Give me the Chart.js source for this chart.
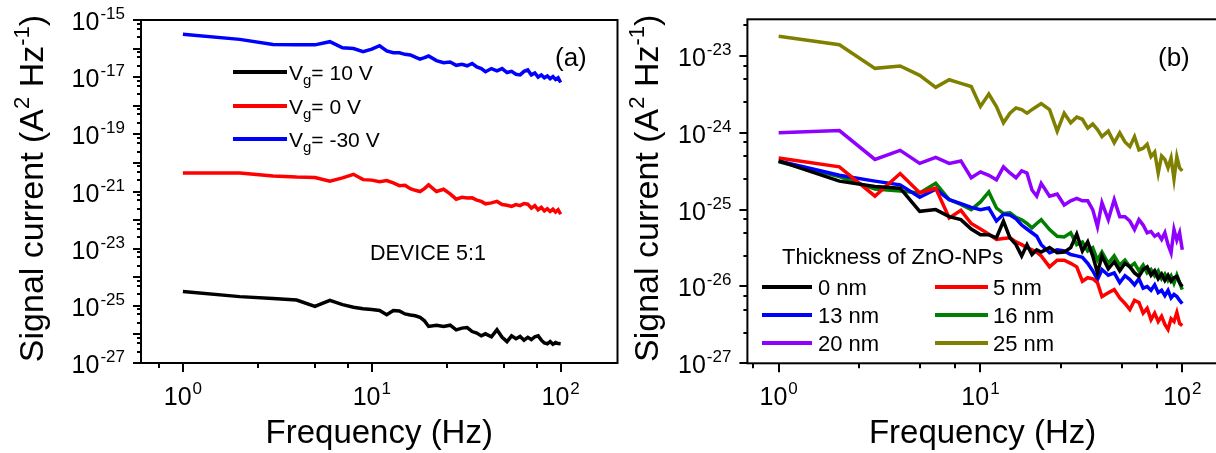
<!DOCTYPE html>
<html>
<head>
<meta charset="utf-8">
<script src="https://cdn.jsdelivr.net/npm/chart.js@4"></script>
<style>
    html, body { margin: 0; padding: 0; background: #fff; overflow: hidden; }
    #wrap { position: relative; width: 1216px; height: 453px; overflow: hidden; }
    #left { position: absolute; left: 0; top: 0; }
    #right { position: absolute; left: 600px; top: 0; }
</style>
</head>
<body>
<div id="wrap">
    <canvas id="left" width="640" height="453"></canvas>
    <canvas id="right" width="620" height="453"></canvas>
</div>
<script>
// frequency points (Hz), shared by every curve
const freq = [1,2,3,4,5,6,7,8,9,10,11,12,13,14,15,16,17,18,19,20,
    22,24,26,28,30,32,34,36,38,40,
    43,46,49,52,55,58,61,64,67,70,73,76,79,82,85,88,91,94,97,100];

// (a) DEVICE 5:1, gate voltages
const gateLabels = ['10 V', '0 V', '-30 V'];
const psdVg10 = [3.2e-25,2.1e-25,1.8e-25,1.6e-25,9.5e-26,1.55e-25,1.1e-25,8.9e-26,7.9e-26,7.4e-26,
    6.9e-26,4.9e-26,6.9e-26,6.6e-26,5.2e-26,4.8e-26,4.5e-26,4.0e-26,3.0e-26,1.9e-26,
    2.1e-26,1.9e-26,2.1e-26,1.45e-26,1.66e-26,1.74e-26,1.26e-26,1.12e-26,8.9e-27,1.05e-26,
    8.3e-27,1.45e-26,7.9e-27,5.6e-27,8.9e-27,7.1e-27,8.5e-27,6.3e-27,7.9e-27,6.6e-27,
    8.3e-27,8.9e-27,6.3e-27,5.0e-27,4.7e-27,5.6e-27,4.5e-27,5.2e-27,4.8e-27,4.7e-27];
const psdVg0 = [4.4e-21,4.4e-21,3.5e-21,3.2e-21,3.1e-21,2.3e-21,3.0e-21,4.0e-21,2.6e-21,2.5e-21,
    2.2e-21,2.4e-21,2.0e-21,1.6e-21,1.66e-21,1.26e-21,1.1e-21,1.0e-21,1.26e-21,1.7e-21,
    1.0e-21,1.2e-21,8.3e-22,5.4e-22,6.3e-22,5.9e-22,6.0e-22,5.0e-22,4.5e-22,3.7e-22,
    4.0e-22,4.5e-22,3.5e-22,3.3e-22,3.0e-22,3.5e-22,3.2e-22,3.8e-22,3.6e-22,2.6e-22,
    3.2e-22,2.3e-22,2.8e-22,2.1e-22,2.5e-22,2.0e-22,2.4e-22,1.9e-22,2.3e-22,1.6e-22];
const psdVgNeg30 = [3.2e-16,2.1e-16,1.4e-16,1.35e-16,1.35e-16,1.74e-16,1.07e-16,1.0e-16,7.8e-17,9.5e-17,
    1.26e-16,8.3e-17,7.2e-17,7.1e-17,6.3e-17,6.0e-17,5.0e-17,4.3e-17,4.8e-17,5.5e-17,
    3.8e-17,3.2e-17,3.4e-17,2.6e-17,2.8e-17,2.5e-17,3.0e-17,2.3e-17,2.0e-17,1.55e-17,
    2.0e-17,1.66e-17,2.0e-17,1.45e-17,1.6e-17,1.26e-17,1.2e-17,1.6e-17,1.8e-17,1.2e-17,
    1.4e-17,1.0e-17,1.2e-17,9.5e-18,1.1e-17,8.9e-18,1.05e-17,8.3e-18,9.5e-18,6.5e-18];

// (b) thickness of ZnO-NPs
const thicknessLabels = ['0 nm', '5 nm', '13 nm', '16 nm', '20 nm', '25 nm'];
const psd0nm = [4.3e-25,2.35e-25,2.0e-25,1.9e-25,9.5e-26,1.0e-25,8.1e-26,7.4e-26,5.6e-26,4.7e-26,
    4.7e-26,4.3e-26,7.1e-26,4.3e-26,3.5e-26,2.5e-26,3.5e-26,2.6e-26,3.0e-26,2.8e-26,
    3.2e-26,2.75e-26,2.8e-26,3.2e-26,4.8e-26,2.9e-26,3.8e-26,2.5e-26,1.5e-26,2.5e-26,
    1.7e-26,2.1e-26,1.6e-26,2.0e-26,1.8e-26,1.5e-26,1.35e-26,1.66e-26,1.8e-26,1.4e-26,
    1.6e-26,1.26e-26,1.45e-26,1.2e-26,1.4e-26,1.17e-26,1.3e-26,1.35e-26,1.12e-26,1.0e-26];
const psd5nm = [4.7e-25,3.6e-25,1.5e-25,2.95e-25,1.66e-25,1.9e-25,7.8e-26,9.8e-26,6.6e-26,5.6e-26,
    4.8e-26,4.1e-26,4.2e-26,4.3e-26,3.8e-26,3.5e-26,3.2e-26,3.0e-26,2.8e-26,2.5e-26,
    1.8e-26,2.2e-26,2.2e-26,2.0e-26,1.8e-26,1.17e-26,1.3e-26,1.26e-26,1.12e-26,7.4e-27,
    8.3e-27,9.1e-27,7.1e-27,6.0e-27,5.0e-27,6.6e-27,6.2e-27,4.5e-27,5.2e-27,3.7e-27,
    4.5e-27,3.5e-27,4.1e-27,3.2e-27,2.75e-27,3.8e-27,3.5e-27,4.6e-27,3.3e-27,3.1e-27];
const psd13nm = [4.3e-25,2.8e-25,2.35e-25,2.1e-25,1.45e-25,1.85e-25,1.35e-25,1.2e-25,1.07e-25,1.0e-25,
    1.05e-25,7.1e-26,8.7e-26,8.5e-26,7.6e-26,6.3e-26,5.6e-26,5.0e-26,4.5e-26,3.5e-26,
    2.75e-26,3.0e-26,2.9e-26,2.6e-26,2.5e-26,2.4e-26,2.0e-26,1.6e-26,1.23e-26,1.66e-26,
    1.4e-26,1.5e-26,1.12e-26,1.38e-26,1.23e-26,1.05e-26,1.26e-26,9.5e-27,1.0e-26,8.9e-27,
    1.05e-26,8.3e-27,8.9e-27,7.6e-27,8.9e-27,7.1e-27,7.9e-27,7.4e-27,6.6e-27,6.0e-27];
const psd16nm = [4.2e-25,2.7e-25,1.85e-25,1.75e-25,1.65e-25,2.2e-25,1.35e-25,1.17e-25,1.0e-25,1.26e-25,
    1.7e-25,1.05e-25,8.9e-26,9.1e-26,7.9e-26,7.4e-26,6.6e-26,5.8e-26,6.6e-26,7.4e-26,
    5.5e-26,4.5e-26,4.4e-26,5.0e-26,3.5e-26,3.8e-26,2.9e-26,3.2e-26,2.2e-26,2.8e-26,
    2.0e-26,2.5e-26,1.9e-26,2.2e-26,1.8e-26,2.0e-26,1.6e-26,1.9e-26,1.5e-26,1.66e-26,
    1.38e-26,1.6e-26,1.26e-26,1.45e-26,1.2e-26,1.38e-26,1.1e-26,1.4e-26,1.12e-26,9.1e-27];
const psd20nm = [1.0e-24,1.07e-24,4.5e-25,5.9e-25,4.0e-25,4.8e-25,4.0e-25,4.3e-25,2.6e-25,3.1e-25,
    2.8e-25,2.45e-25,3.6e-25,3.0e-25,2.6e-25,3.2e-25,3.0e-25,1.8e-25,1.5e-25,2.2e-25,
    1.5e-25,1.6e-25,1.15e-25,1.3e-25,1.4e-25,1.3e-25,1.3e-25,1.0e-25,6.0e-26,1.23e-25,
    7.4e-26,1.35e-25,8.1e-26,8.1e-26,7.1e-26,5.5e-26,7.4e-26,6.3e-26,5.0e-26,5.2e-26,
    4.5e-26,4.8e-26,4.1e-26,5.0e-26,3.5e-26,2.75e-26,5.5e-26,4.0e-26,5.0e-26,3.0e-26];
const psd25nm = [1.8e-23,1.4e-23,6.9e-24,7.4e-24,5.6e-24,3.9e-24,4.9e-24,4.4e-24,4.0e-24,2.2e-24,
    3.2e-24,2.2e-24,1.35e-24,1.8e-24,2.1e-24,2.0e-24,1.8e-24,2.0e-24,2.2e-24,2.4e-24,
    2.0e-24,1.05e-24,1.8e-24,1.35e-24,1.6e-24,1.5e-24,1.15e-24,1.3e-24,1.1e-24,8.9e-25,
    1.05e-24,7.4e-25,1.0e-24,7.6e-25,6.6e-25,8.9e-25,6.0e-25,6.3e-25,7.1e-25,4.9e-25,
    5.6e-25,3.0e-25,5.0e-25,4.5e-25,3.5e-25,4.7e-25,2.5e-25,4.9e-25,3.5e-25,3.2e-25];

// tick labels as powers of ten
const xTickExps = [0, 1, 2];
const xMinorTicks = [0.75, 2.5, 5, 7.5, 25, 50, 75];
const leftYTickExps = [-15, -17, -19, -21, -23, -25, -27];
const rightYTickExps = [-23, -24, -25, -26, -27];

const FONT = '"Liberation Sans", Arial, Helvetica, sans-serif';

function pts(arr) {
    return freq.map((f, i) => ({ x: f, y: arr[i] }));
}

// minor ticks at 2.5, 5, 7.5 of every decade plus unlabeled decades
function yTicks(lo, hi, yMin, yMax) {
    const major = [], minor = [];
    for (let e = lo; e <= hi; e++) {
        major.push(Math.pow(10, e));
        [2.5, 5, 7.5].forEach(m => {
            const v = m * Math.pow(10, e);
            if (v > yMin && v < yMax) minor.push(v);
        });
    }
    return { major, minor };
}

function drawPow(ctx, x, y, exp, align) {
    ctx.font = '25px ' + FONT;
    const w1 = ctx.measureText('10').width;
    ctx.font = '17px ' + FONT;
    const e = String(exp);
    const w2 = ctx.measureText(e).width;
    const total = w1 + w2 + 1;
    let x0 = x;
    if (align === 'center') x0 = x - total / 2;
    if (align === 'right') x0 = x - total;
    ctx.textAlign = 'left';
    ctx.textBaseline = 'alphabetic';
    ctx.font = '25px ' + FONT;
    ctx.fillText('10', x0, y);
    ctx.font = '17px ' + FONT;
    ctx.fillText(e, x0 + w1 + 1, y - 11);
}

function drawRich(ctx, parts, x, y, align) {
    let total = 0;
    parts.forEach(p => { ctx.font = p[1] + 'px ' + FONT; total += ctx.measureText(p[0]).width; });
    let cx = align === 'center' ? x - total / 2 : x;
    ctx.textAlign = 'left';
    ctx.textBaseline = 'alphabetic';
    parts.forEach(p => {
        ctx.font = p[1] + 'px ' + FONT;
        ctx.fillText(p[0], cx, y - (p[2] || 0));
        cx += ctx.measureText(p[0]).width;
    });
}

const yTitleParts = [['Signal current (A', 34], ['2', 22, 14], [' Hz', 34], ['-1', 22, 14], [')', 34]];

const logFrame = {
    id: 'logFrame',
    afterDraw(chart, args, opts) {
        const ctx = chart.ctx;
        const a = chart.chartArea;
        const xs = chart.scales.x, ys = chart.scales.y;
        ctx.save();
        ctx.strokeStyle = '#000';
        ctx.fillStyle = '#000';
        ctx.lineWidth = 2;
        ctx.strokeRect(a.left, a.top, a.right - a.left, a.bottom - a.top);

        ctx.beginPath();
        xTickExps.forEach(e => {
            const px = Math.round(xs.getPixelForValue(Math.pow(10, e)));
            ctx.moveTo(px, a.bottom); ctx.lineTo(px, a.bottom + 9);
        });
        xMinorTicks.forEach(v => {
            if (v < xs.min || v > xs.max) return;
            const px = Math.round(xs.getPixelForValue(v));
            ctx.moveTo(px, a.bottom); ctx.lineTo(px, a.bottom + 5);
        });
        opts.yMajor.forEach(v => {
            const py = Math.round(ys.getPixelForValue(v));
            ctx.moveTo(a.left, py); ctx.lineTo(a.left - 8, py);
        });
        opts.yMinor.forEach(v => {
            const py = Math.round(ys.getPixelForValue(v));
            ctx.moveTo(a.left, py); ctx.lineTo(a.left - 4, py);
        });
        ctx.stroke();

        xTickExps.forEach(e => drawPow(ctx, xs.getPixelForValue(Math.pow(10, e)), a.bottom + 42, e, 'center'));
        opts.yLabels.forEach(e => drawPow(ctx, a.left - 16, ys.getPixelForValue(Math.pow(10, e)) + 10, e, 'right'));

        drawRich(ctx, [['Frequency (Hz)', 33]], (a.left + a.right) / 2, 443, 'center');

        ctx.translate(opts.titleX, (a.top + a.bottom) / 2 - 3);
        ctx.rotate(-Math.PI / 2);
        drawRich(ctx, yTitleParts, 0, 0, 'center');
        ctx.restore();
    }
};

const leftNotes = {
    id: 'leftNotes',
    afterDraw(chart) {
        const ctx = chart.ctx;
        ctx.save();
        const rows = [72, 106, 139];
        chart.data.datasets.forEach((ds, i) => {
            const y = rows[i];
            ctx.strokeStyle = ds.borderColor;
            ctx.lineWidth = 4;
            ctx.beginPath();
            ctx.moveTo(233, y); ctx.lineTo(287, y);
            ctx.stroke();
            ctx.fillStyle = '#000';
            drawRich(ctx, [['V', 21], ['g', 15, -5], ['= ' + gateLabels[i], 21]], 289, y + 8, 'left');
        });
        ctx.fillStyle = '#000';
        drawRich(ctx, [['(a)', 26]], 555, 66, 'left');
        drawRich(ctx, [['DEVICE 5:1', 21.5]], 370, 260, 'left');
        ctx.restore();
    }
};

const rightNotes = {
    id: 'rightNotes',
    afterDraw(chart) {
        const ctx = chart.ctx;
        ctx.save();
        ctx.fillStyle = '#000';
        drawRich(ctx, [['Thickness of ZnO-NPs', 22]], 182, 264, 'left');
        const rows = [287, 315, 343];
        const cols = [[162, 212, 218], [335, 388, 393]];
        chart.data.datasets.forEach((ds, i) => {
            const y = rows[Math.floor(i / 2)];
            const c = cols[i % 2];
            ctx.strokeStyle = ds.borderColor;
            ctx.lineWidth = 4;
            ctx.beginPath();
            ctx.moveTo(c[0], y); ctx.lineTo(c[1], y);
            ctx.stroke();
            ctx.fillStyle = '#000';
            drawRich(ctx, [[thicknessLabels[i], 22]], c[2], y + 8, 'left');
        });
        drawRich(ctx, [['(b)', 26]], 558, 66, 'left');
        ctx.restore();
    }
};

function lineSet(label, arr, color) {
    return { label, data: pts(arr), borderColor: color, backgroundColor: color,
        borderWidth: 3.5, pointRadius: 0, tension: 0, fill: false };
}

function baseOptions(xMin, xMax, yMin, yMax, padding, frame) {
    return {
        responsive: false, animation: false, devicePixelRatio: 1,
        layout: { padding },
        plugins: { legend: { display: false }, tooltip: { enabled: false }, logFrame: frame },
        scales: {
            x: { type: 'logarithmic', min: xMin, max: xMax, display: false },
            y: { type: 'logarithmic', min: yMin, max: yMax, display: false }
        }
    };
}

const leftY = yTicks(-27, -15, 1e-27, 1e-15);
new Chart(document.getElementById('left'), {
    type: 'line',
    data: { datasets: [
        lineSet('Vg= ' + gateLabels[0], psdVg10, '#000000'),
        lineSet('Vg= ' + gateLabels[1], psdVg0, '#ff0000'),
        lineSet('Vg= ' + gateLabels[2], psdVgNeg30, '#0000ff')
    ] },
    options: baseOptions(0.6, 200, 1e-27, 1e-15,
        { left: 141, right: 22.5, top: 20, bottom: 90 },
        { yMajor: leftY.major, yMinor: leftY.minor, yLabels: leftYTickExps, titleX: 43 }),
    plugins: [logFrame, leftNotes]
});

const rightY = yTicks(-27, -23, 1e-27, 3e-23);
new Chart(document.getElementById('right'), {
    type: 'line',
    data: { datasets: [
        lineSet(thicknessLabels[0], psd0nm, '#000000'),
        lineSet(thicknessLabels[1], psd5nm, '#ff0000'),
        lineSet(thicknessLabels[2], psd13nm, '#0000ff'),
        lineSet(thicknessLabels[3], psd16nm, '#007f00'),
        lineSet(thicknessLabels[4], psd20nm, '#8f00ff'),
        lineSet(thicknessLabels[5], psd25nm, '#808000')
    ] },
    options: baseOptions(0.7, 150, 1e-27, 3e-23,
        { left: 147.4, right: 2.2, top: 19.3, bottom: 89.7 },
        { yMajor: rightY.major, yMinor: rightY.minor, yLabels: rightYTickExps, titleX: 58 }),
    plugins: [logFrame, rightNotes]
});
</script>
</body>
</html>
